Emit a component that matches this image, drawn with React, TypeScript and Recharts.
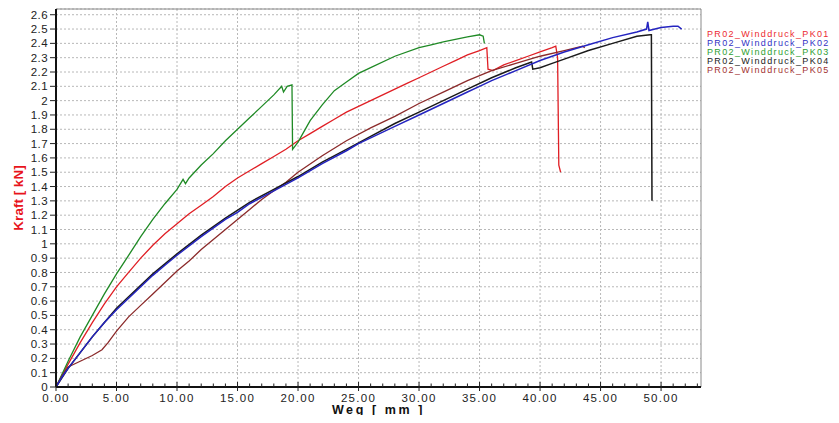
import React from 'react'
import { LineChart, Line, XAxis, YAxis, CartesianGrid, ReferenceLine } from 'recharts'

const FONT = '"Liberation Sans", Arial, sans-serif'

const seriesNames = [
  'PR02_Winddruck_PK01',
  'PR02_Winddruck_PK02',
  'PR02_Winddruck_PK03',
  'PR02_Winddruck_PK04',
  'PR02_Winddruck_PK05',
]
const lineColors = ['#e01e24', '#2424c0', '#1f8a25', '#1a1a1a', '#8b2a2a']
const legendColors = ['#ec2a32', '#3232c4', '#2e9e32', '#222222', '#a23232']

// [Weg mm, Kraft kN]
const pk01 = [
  [0, 0], [1, 0.16], [2, 0.31], [3, 0.45], [4, 0.58], [5, 0.7], [6, 0.8], [7, 0.9], [8, 0.99],
  [9, 1.07], [10, 1.14], [11, 1.21], [12, 1.27], [13, 1.33], [14, 1.4], [15, 1.46], [16, 1.51],
  [17, 1.56], [18, 1.61], [19, 1.66], [20, 1.72], [21, 1.77], [22, 1.82], [23, 1.87], [24, 1.92],
  [25, 1.96], [26, 2.0], [27, 2.04], [28, 2.08], [29, 2.12], [30, 2.16], [31, 2.2], [32, 2.24],
  [33, 2.28], [34, 2.32], [35, 2.35], [35.6, 2.37], [35.7, 2.22], [36.1, 2.21], [37, 2.25],
  [38, 2.28], [39, 2.31], [40, 2.34], [41, 2.37], [41.3, 2.38], [41.45, 2.3], [41.55, 1.55], [41.7, 1.5],
]
const pk02 = [
  [0, 0], [0.5, 0.07], [1, 0.13], [2, 0.24], [3, 0.35], [4, 0.45], [5, 0.54], [6, 0.62], [7, 0.7],
  [8, 0.78], [9, 0.85], [10, 0.92], [12, 1.05], [14, 1.17], [15, 1.22], [16, 1.28], [18, 1.37],
  [20, 1.46], [22, 1.56], [24, 1.65], [25, 1.7], [26, 1.74], [28, 1.82], [30, 1.9], [32, 1.98],
  [34, 2.06], [35, 2.1], [36, 2.14], [38, 2.21], [40, 2.28], [42, 2.34], [44, 2.39], [46, 2.44],
  [48, 2.48], [48.8, 2.5], [48.9, 2.55], [49.0, 2.49], [49.5, 2.5], [50, 2.51], [51, 2.52],
  [51.4, 2.52], [51.7, 2.5],
]
const pk03 = [
  [0, 0], [1, 0.18], [2, 0.35], [3, 0.5], [4, 0.65], [5, 0.79], [6, 0.92], [7, 1.05], [8, 1.17],
  [9, 1.28], [10, 1.38], [10.5, 1.45], [10.7, 1.42], [11, 1.46], [12, 1.55], [13, 1.63], [14, 1.72],
  [15, 1.8], [16, 1.88], [17, 1.96], [18, 2.04], [18.65, 2.1], [18.8, 2.06], [19.1, 2.1], [19.5, 2.11],
  [19.55, 1.66], [20, 1.71], [21, 1.86], [22, 1.97], [23, 2.07], [24, 2.13], [25, 2.19], [26, 2.23],
  [28, 2.31], [30, 2.37], [31, 2.39], [32, 2.41], [34, 2.445], [35, 2.46], [35.3, 2.45], [35.4, 2.4],
]
const pk04 = [
  [0, 0], [1, 0.13], [2, 0.24], [3, 0.35], [4, 0.45], [5, 0.55], [6, 0.63], [7, 0.71], [8, 0.79],
  [9, 0.86], [10, 0.93], [12, 1.06], [14, 1.18], [16, 1.29], [18, 1.38], [20, 1.47], [22, 1.57],
  [24, 1.66], [26, 1.75], [28, 1.84], [30, 1.92], [32, 2.0], [34, 2.08], [36, 2.16], [38, 2.23],
  [39.3, 2.27], [39.4, 2.22], [40, 2.23], [41, 2.26], [42, 2.29], [44, 2.35], [46, 2.4], [48, 2.45],
  [49.1, 2.46], [49.2, 2.46], [49.25, 1.3],
]
const pk05 = [
  [0, 0], [0.5, 0.08], [1, 0.14], [2, 0.18], [3, 0.22], [3.8, 0.26], [4.3, 0.31], [5, 0.39],
  [6, 0.49], [7, 0.57], [8, 0.65], [9, 0.73], [10, 0.81], [11, 0.88], [12, 0.96], [13, 1.03],
  [14, 1.1], [15, 1.17], [16, 1.24], [17, 1.31], [18, 1.37], [19, 1.43], [20, 1.5], [22, 1.615],
  [24, 1.72], [26, 1.81], [28, 1.89], [30, 1.98], [32, 2.06], [34, 2.14], [36, 2.21], [38, 2.26],
  [40, 2.31], [42, 2.35], [43.5, 2.38], [43.7, 2.37],
]
const seriesData = [pk01, pk02, pk03, pk04, pk05]
// black drawn before blue so the blue trace sits on top
const drawOrder = [0, 2, 4, 3, 1]

const xMajorTicks = [0, 5, 10, 15, 20, 25, 30, 35, 40, 45, 50]
const xTicks = Array.from({ length: 54 }, (_, i) => i)
const yTicks = [
  0, 0.1, 0.2, 0.3, 0.4, 0.5, 0.6, 0.7, 0.8, 0.9, 1, 1.1, 1.2, 1.3,
  1.4, 1.5, 1.6, 1.7, 1.8, 1.9, 2, 2.1, 2.2, 2.3, 2.4, 2.5, 2.6,
]
const X_MAX = 53.3
const Y_MAX = 2.64

const toRows = (pts: number[][]) => pts.map(([x, y]) => ({ x, y }))

const XTick = (props: any) => {
  const { x, y, payload } = props
  const major = payload.value % 5 === 0
  return (
    <g>
      <line x1={x} x2={x} y1={major ? y - 5 : y - 3.5} y2={major ? y + 4 : y} stroke="#222" strokeWidth={1} />
      {major && (
        <text x={x} y={y + 15} textAnchor="middle" fill="#222" fontSize={11.5} letterSpacing={1.3} fontFamily={FONT}>
          {payload.value.toFixed(2)}
        </text>
      )}
    </g>
  )
}

const XLabel = (props: any) => {
  const { viewBox } = props
  return (
    <text
      x={viewBox.x + viewBox.width / 2}
      y={viewBox.y + 26.5}
      textAnchor="middle"
      fontFamily={FONT}
      fontSize={12.5}
      fontWeight="bold"
      letterSpacing={2.6}
      fill="#111"
    >
      Weg [ mm ]
    </text>
  )
}

export default function App() {
  return (
    <div style={{ position: 'relative', margin: -8, width: 839, height: 423, background: '#fff' }}>
      <LineChart width={839} height={423} margin={{ top: 9, right: 138, bottom: 0, left: 14 }}>
        <CartesianGrid vertical={false} stroke="#b8b8b8" strokeDasharray="2 2" />
        {xMajorTicks.slice(1).map((v) => (
          <ReferenceLine key={v} x={v} stroke="#b8b8b8" strokeDasharray="2 2" />
        ))}
        <ReferenceLine y={Y_MAX} stroke="#8a8a8a" />
        <ReferenceLine x={X_MAX} stroke="#8a8a8a" />
        <XAxis
          type="number"
          dataKey="x"
          domain={[0, X_MAX]}
          ticks={xTicks}
          interval={0}
          allowDataOverflow
          height={36}
          tickSize={0}
          tickMargin={0}
          tickLine={false}
          tick={<XTick />}
          axisLine={{ stroke: '#111', strokeWidth: 2 }}
          label={<XLabel />}
        />
        <YAxis
          type="number"
          domain={[0, Y_MAX]}
          ticks={yTicks}
          interval={0}
          allowDataOverflow
          width={42}
          tickSize={6}
          tickMargin={2}
          tickFormatter={(v: number) => String(Number(v.toFixed(1)))}
          tick={{ fontFamily: FONT, fontSize: 11.5, fill: '#222', letterSpacing: 0.4 }}
          tickLine={{ stroke: '#222' }}
          axisLine={{ stroke: '#111', strokeWidth: 2 }}
          label={{
            value: 'Kraft [ kN]',
            angle: -90,
            position: 'insideLeft',
            offset: 4,
            style: { textAnchor: 'middle', fontFamily: FONT, fontSize: 13.5, fontWeight: 'bold', fill: '#e8141c' },
          }}
        />
        {drawOrder.map((i) => (
          <Line
            key={seriesNames[i]}
            data={toRows(seriesData[i])}
            dataKey="y"
            name={seriesNames[i]}
            type="linear"
            stroke={lineColors[i]}
            strokeWidth={i === 1 || i === 3 ? 1.5 : 1.3}
            dot={false}
            isAnimationActive={false}
          />
        ))}
      </LineChart>
      <div
        style={{
          position: 'absolute',
          left: 707,
          top: 30,
          fontFamily: FONT,
          fontSize: 9,
          lineHeight: '9px',
          letterSpacing: 1.35,
          whiteSpace: 'nowrap',
        }}
      >
        {seriesNames.map((n, i) => (
          <div key={n} style={{ color: legendColors[i] }}>{n}</div>
        ))}
      </div>
    </div>
  )
}
